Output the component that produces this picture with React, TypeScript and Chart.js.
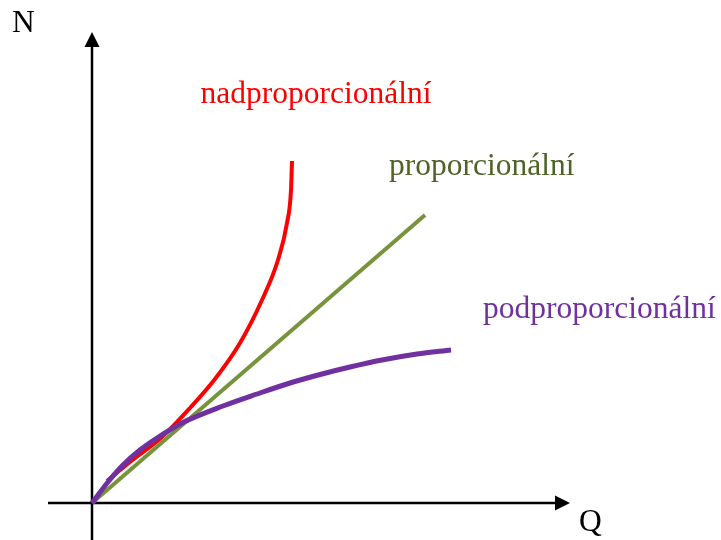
import React, { useEffect, useRef } from "react";
import { Chart, registerables } from "chart.js";

Chart.register(...registerables);

// Data in abstract units (Q horizontal, N vertical), origin at the axes crossing
const redQ = [15, 38, 70, 98, 123, 148, 170, 186, 195, 199, 200];
const redN = [22, 41, 66, 95, 124, 160, 203, 243, 280, 313, 342];
const greenQ = [0, 333];
const greenN = [0, 288];
const purpleQ = [0, 16, 31, 48, 65, 90, 131, 165, 198, 230, 258, 290, 325, 359];
const purpleN = [0, 21, 38, 53, 65, 80, 97, 109, 120, 129, 136, 143, 149, 153];

const seriesLabels = ["nadproporcionální", "proporcionální", "podproporcionální"];
const axisLabels = ["Q", "N"];

const FONT = '"Times New Roman", "Liberation Serif", serif';

const toPts = (xs: number[], ys: number[]) => xs.map((x, i) => ({ x, y: ys[i] }));

const axesPlugin = {
  id: "axesPlugin",
  beforeDatasetsDraw(chart: any) {
    const { ctx, scales } = chart;
    const xs = scales.x;
    const ys = scales.y;
    const ox = xs.getPixelForValue(0);
    const oy = ys.getPixelForValue(0);
    ctx.save();
    ctx.strokeStyle = "#000";
    ctx.fillStyle = "#000";
    ctx.lineWidth = 2.5;
    // x axis
    const xStart = xs.getPixelForValue(-44);
    const xTip = xs.getPixelForValue(478);
    ctx.beginPath();
    ctx.moveTo(xStart, oy);
    ctx.lineTo(xTip - 14, oy);
    ctx.stroke();
    ctx.beginPath();
    ctx.moveTo(xTip, oy);
    ctx.lineTo(xTip - 15, oy - 7.5);
    ctx.lineTo(xTip - 15, oy + 7.5);
    ctx.closePath();
    ctx.fill();
    // y axis
    const yStart = ys.getPixelForValue(-40);
    const yTip = ys.getPixelForValue(471);
    ctx.beginPath();
    ctx.moveTo(ox, yStart);
    ctx.lineTo(ox, yTip + 14);
    ctx.stroke();
    ctx.beginPath();
    ctx.moveTo(ox, yTip);
    ctx.lineTo(ox - 7.5, yTip + 15);
    ctx.lineTo(ox + 7.5, yTip + 15);
    ctx.closePath();
    ctx.fill();
    ctx.restore();
  },
  afterDraw(chart: any) {
    const { ctx, scales } = chart;
    const xs = scales.x;
    const ys = scales.y;
    const put = (text: string, q: number, n: number, color: string) => {
      ctx.fillStyle = color;
      ctx.fillText(text, xs.getPixelForValue(q), ys.getPixelForValue(n));
    };
    ctx.save();
    ctx.font = `31.5px ${FONT}`;
    ctx.textAlign = "left";
    ctx.textBaseline = "alphabetic";
    put(seriesLabels[0], 108.5, 400, "#FF0000");
    put(seriesLabels[1], 297, 328, "#4F6228");
    put(seriesLabels[2], 391, 185, "#7030A0");
    put(axisLabels[0], 487, -28, "#000000");
    put(axisLabels[1], -80, 471, "#000000");
    ctx.restore();
  },
};

export default function App() {
  const ref = useRef<HTMLCanvasElement>(null);
  useEffect(() => {
    if (!ref.current) return;
    const chart = new Chart(ref.current, {
      type: "line",
      data: {
        datasets: [
          {
            label: seriesLabels[2],
            data: toPts(purpleQ, purpleN),
            borderColor: "#7030A0",
            borderWidth: 5,
            pointRadius: 0,
            cubicInterpolationMode: "monotone",
            fill: false,
          },
          {
            label: seriesLabels[0],
            data: toPts(redQ, redN),
            borderColor: "#FF0000",
            borderWidth: 4,
            pointRadius: 0,
            cubicInterpolationMode: "monotone",
            fill: false,
          },
          {
            label: seriesLabels[1],
            data: toPts(greenQ, greenN),
            borderColor: "#77933C",
            borderWidth: 4,
            pointRadius: 0,
            tension: 0,
            fill: false,
          },
        ],
      },
      options: {
        animation: false,
        responsive: false,
        devicePixelRatio: 1,
        layout: { padding: 0 },
        plugins: {
          legend: { display: false },
          tooltip: { enabled: false },
        },
        scales: {
          x: { type: "linear", min: -92, max: 629, display: false },
          y: { type: "linear", min: -37, max: 503, display: false },
        },
      },
      plugins: [axesPlugin],
    });
    return () => chart.destroy();
  }, []);
  return (
    <div style={{ position: "fixed", left: 0, top: 0, width: 721, height: 540, background: "#fff" }}>
      <canvas ref={ref} width={721} height={540} style={{ display: "block" }} />
    </div>
  );
}
